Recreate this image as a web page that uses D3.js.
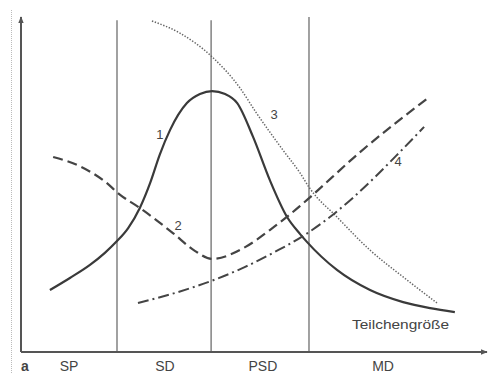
<!DOCTYPE html>
<html>
<head>
<meta charset="utf-8">
<script src="https://cdn.jsdelivr.net/npm/d3@7"></script>
<style>
  html, body { margin: 0; padding: 0; background: #fff; }
  svg { display: block; }
  text { font-family: "Liberation Sans", Arial, sans-serif; fill: #444; }
</style>
</head>
<body>
<div id="chart"></div>
<script>
// particle size (x) and relative value (y), arbitrary units 0..100
const curve1 = [[6.2,18.5],[10.5,22.1],[14.8,26.0],[18.0,29.6],[20.6,33.1],[23.0,37.0],[25.5,43.0],[27.7,50.4],[29.8,59.0],[32.0,66.3],[35.6,74.3],[38.4,77.0],[41.0,77.9],[43.8,77.0],[46.4,74.3],[49.8,64.2],[53.4,51.3],[57.1,40.3],[59.9,35.2],[61.4,32.8],[67.8,24.5],[74.9,18.5],[82.0,14.9],[87.8,13.1],[93.1,11.9]];
const curve2 = [[6.9,58.2],[12.7,55.4],[18.0,50.9],[21.2,47.0],[25.5,43.0],[32.6,35.5],[37.3,30.2],[41.0,27.8],[48.1,31.3],[53.4,36.4],[59.9,43.6],[62.2,46.4],[72.7,59.6],[87.6,76.1]];
const curve3 = [[28.1,98.8],[34.1,95.2],[41.0,88.1],[47.0,78.8],[50.4,71.6],[56.2,60.3],[59.9,53.4],[62.0,48.8],[67.8,40.3],[74.9,30.4],[82.0,22.4],[89.3,14.6]];
const curve4 = [[25.1,14.6],[33.0,17.6],[40.8,21.2],[48.1,25.4],[54.5,29.9],[60.5,34.6],[66.3,40.3],[71.2,46.0],[81.3,59.7],[86.5,67.2]];

const curveNames = ["1", "2", "3", "4"];
const curveLabelPos = [[29.8,63.5],[33.7,36.5],[54.3,69.5],[80.9,55.5]];

const boundaries = [20.6, 40.8, 61.8];
const regionNames = ["SP", "SD", "PSD", "MD"];
const regionLabelX = [10.3, 30.9, 51.9, 77.7];
const axisTitle = "Teilchengröße";
const panelLetter = "a";

const width = 489, height = 374;
const svg = d3.select("#chart").append("svg")
  .attr("width", width)
  .attr("height", height);

const x = d3.scaleLinear().domain([0, 100]).range([21, 487]);
const y = d3.scaleLinear().domain([0, 100]).range([352, 17]);

// faint scan border on the left
svg.append("line")
  .attr("x1", 11.5).attr("x2", 11.5)
  .attr("y1", 10).attr("y2", height)
  .attr("stroke", "#bbb")
  .attr("stroke-width", 1)
  .attr("stroke-dasharray", "1,1");

// region boundaries
svg.append("g")
  .selectAll("line")
  .data(boundaries)
  .join("line")
  .attr("x1", d => x(d)).attr("x2", d => x(d))
  .attr("y1", y(0)).attr("y2", (d, i) => y(i === 2 ? 100 : 99))
  .attr("stroke", "#8a8a8a")
  .attr("stroke-width", 1.6);

// axes with arrows
const defs = svg.append("defs");
defs.append("marker")
  .attr("id", "arrow")
  .attr("viewBox", "0 0 10 10")
  .attr("refX", 9).attr("refY", 5)
  .attr("markerWidth", 7).attr("markerHeight", 7)
  .attr("markerUnits", "userSpaceOnUse")
  .attr("orient", "auto")
  .append("path")
  .attr("d", "M0,1 L10,5 L0,9 Z")
  .attr("fill", "#555");

svg.append("line")
  .attr("x1", x(0)).attr("x2", x(100))
  .attr("y1", y(0)).attr("y2", y(0))
  .attr("stroke", "#555").attr("stroke-width", 2)
  .attr("marker-end", "url(#arrow)");
svg.append("line")
  .attr("x1", x(0)).attr("x2", x(0))
  .attr("y1", y(0)).attr("y2", y(100))
  .attr("stroke", "#555").attr("stroke-width", 2)
  .attr("marker-end", "url(#arrow)");

const line = d3.line()
  .curve(d3.curveMonotoneX)
  .x(d => x(d[0]))
  .y(d => y(d[1]));

const styles = [
  { data: curve1, dash: null, w: 2.2, c: "#3a3a3a" },
  { data: curve2, dash: "10,5", w: 2.2, c: "#444" },
  { data: curve3, dash: "1.4,1.6", w: 1.5, c: "#666" },
  { data: curve4, dash: "11,4,2,4", w: 2, c: "#444" }
];

svg.append("g")
  .selectAll("path")
  .data(styles)
  .join("path")
  .attr("d", d => line(d.data))
  .attr("fill", "none")
  .attr("stroke", d => d.c)
  .attr("stroke-width", d => d.w)
  .attr("stroke-dasharray", d => d.dash);

// curve numbers
svg.append("g")
  .selectAll("text")
  .data(curveNames)
  .join("text")
  .attr("x", (d, i) => x(curveLabelPos[i][0]))
  .attr("y", (d, i) => y(curveLabelPos[i][1]))
  .attr("text-anchor", "middle")
  .attr("font-size", 13)
  .text(d => d);

// region labels
svg.append("g")
  .selectAll("text")
  .data(regionNames)
  .join("text")
  .attr("x", (d, i) => x(regionLabelX[i]))
  .attr("y", 371)
  .attr("text-anchor", "middle")
  .attr("font-size", 14)
  .text(d => d);

svg.append("text")
  .attr("x", 25).attr("y", 371)
  .attr("text-anchor", "middle")
  .attr("font-size", 14)
  .attr("font-weight", "bold")
  .text(panelLetter);

svg.append("text")
  .attr("x", 352).attr("y", 329)
  .attr("font-size", 13)
  .attr("textLength", 97)
  .attr("lengthAdjust", "spacingAndGlyphs")
  .text(axisTitle);
</script>
</body>
</html>
